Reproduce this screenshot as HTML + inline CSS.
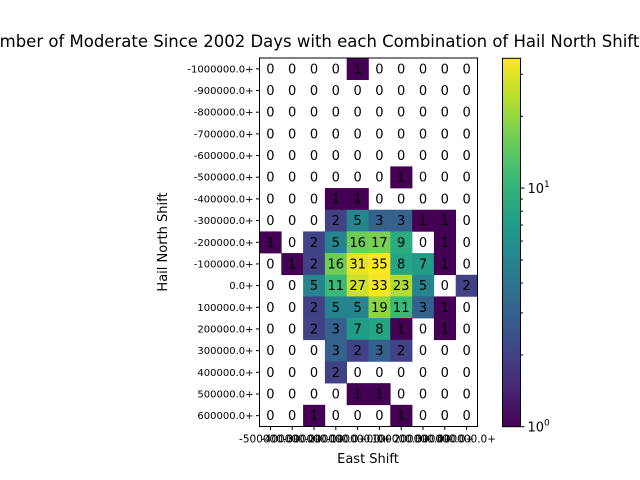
<!DOCTYPE html>
<html><head><meta charset="utf-8"><style>body{margin:0;background:#fff}svg{display:block;font-family:"DejaVu Sans","Liberation Sans",sans-serif}</style></head>
<body>
<svg id="c" width="640" height="480" viewBox="0 0 640 480"></svg>
<script>
const xLabels=["-500000.0+","-400000.0+","-300000.0+","-200000.0+","-100000.0+","0.0+","100000.0+","200000.0+","300000.0+","400000.0+"];
const yLabels=["-1000000.0+","-900000.0+","-800000.0+","-700000.0+","-600000.0+","-500000.0+","-400000.0+","-300000.0+","-200000.0+","-100000.0+","0.0+","100000.0+","200000.0+","300000.0+","400000.0+","500000.0+","600000.0+"];
const counts=[
[0,0,0,0,1,0,0,0,0,0],
[0,0,0,0,0,0,0,0,0,0],
[0,0,0,0,0,0,0,0,0,0],
[0,0,0,0,0,0,0,0,0,0],
[0,0,0,0,0,0,0,0,0,0],
[0,0,0,0,0,0,1,0,0,0],
[0,0,0,1,1,0,0,0,0,0],
[0,0,0,2,5,3,3,1,1,0],
[1,0,2,5,16,17,9,0,1,0],
[0,1,2,16,31,35,8,7,1,0],
[0,0,5,11,27,33,23,5,0,2],
[0,0,2,5,5,19,11,3,1,0],
[0,0,2,3,7,8,1,0,1,0],
[0,0,0,3,2,3,2,0,0,0],
[0,0,0,2,0,0,0,0,0,0],
[0,0,0,0,1,1,0,0,0,0],
[0,0,1,0,0,0,1,0,0,0]];
const cbMinor=[2,3,4,5,6,7,8,9,20,30];
const NS="http://www.w3.org/2000/svg";
const svg=document.getElementById('c');
function mk(t,a,p){const e=document.createElementNS(NS,t);for(const k in a)e.setAttribute(k,a[k]);(p||svg).appendChild(e);return e;}
const L=259.5,R=477.5,T=58,B=426.5;
const nx=xLabels.length,ny=yLabels.length;
const cw=(R-L)/nx,ch=(B-T)/ny;
const xPos=i=>L+i*cw, yPos=j=>T+j*ch;
let vmax=1;counts.forEach(r=>r.forEach(v=>{if(v>vmax)vmax=v;}));
const VIR=[[68,1,84],[72,40,120],[62,74,137],[49,104,142],[38,130,142],[31,158,137],[53,183,121],[109,205,89],[180,222,44],[253,231,37]];
function viridis(t){t=Math.max(0,Math.min(1,t));const s=t*(VIR.length-1),i=Math.min(Math.floor(s),VIR.length-2),f=s-i;const a=VIR[i],b=VIR[i+1];return `rgb(${a.map((v,k)=>Math.round(v+(b[k]-v)*f)).join(',')})`;}
const norm=v=>Math.log(v)/Math.log(vmax);
const tt=mk('text',{x:368,y:47,'text-anchor':'middle','font-size':'16.5'});tt.textContent="Number of Moderate Since 2002 Days with each Combination of Hail North Shift and East Shift";


counts.forEach((row,j)=>row.forEach((v,i)=>{
 if(v>0){const r=mk('rect',{x:xPos(i),y:yPos(j),width:cw+0.3,height:ch+0.3,fill:viridis(norm(v))});
 
 }
 const t=mk('text',{x:xPos(i)+cw/2,y:yPos(j)+ch/2+4.5,'text-anchor':'middle','font-size':'13'});t.textContent=v;
 
 
}));
const fr=mk('rect',{x:L,y:T,width:R-L,height:B-T,fill:'none',stroke:'#000','stroke-width':1});


xLabels.forEach((s,i)=>{const x=xPos(i)+cw/2;mk('line',{x1:x,x2:x,y1:B,y2:B+3.5,stroke:'#000'});
 const t=mk('text',{x:x,y:B+16,'text-anchor':'middle','font-size':'10.5'});t.textContent=s;
 
 });
yLabels.forEach((s,j)=>{const y=yPos(j)+ch/2;mk('line',{x1:L-3.5,x2:L,y1:y,y2:y,stroke:'#000'});
 const t=mk('text',{x:L-6,y:y+3.5,'text-anchor':'end','font-size':'10'});t.textContent=s;
 
 });
const xt=mk('text',{x:368,y:463,'text-anchor':'middle','font-size':'13'});xt.textContent="East Shift";


const yt=mk('text',{x:167,y:242,'text-anchor':'middle','font-size':'13',transform:'rotate(-90 167 242)'});yt.textContent="Hail North Shift";


const CL=502.5,CR=520.5,CT=58.3,CB=426.7;
const defs=mk('defs',{});const g=mk('linearGradient',{id:'vg',x1:0,y1:1,x2:0,y2:0},defs);
for(let k=0;k<=20;k++)mk('stop',{offset:k/20,'stop-color':viridis(k/20)},g);
const cb=mk('rect',{x:CL,y:CT,width:CR-CL,height:CB-CT,fill:'url(#vg)',stroke:'#000','stroke-width':1});


const cy=v=>CB-norm(v)*(CB-CT);
cbMinor.forEach(v=>{if(v<=vmax)mk('line',{x1:CR,x2:CR+2.5,y1:cy(v),y2:cy(v),stroke:'#000'});});
[1,10].forEach(v=>{const y=cy(v);mk('line',{x1:CR,x2:CR+4,y1:y,y2:y,stroke:'#000'});
 const t=mk('text',{x:CR+7,y:y+5,'font-size':'13'});t.innerHTML='10<tspan dy="-6" font-size="9">'+Math.round(Math.log10(v))+'</tspan>';
 
 });
</script>
</body></html>
